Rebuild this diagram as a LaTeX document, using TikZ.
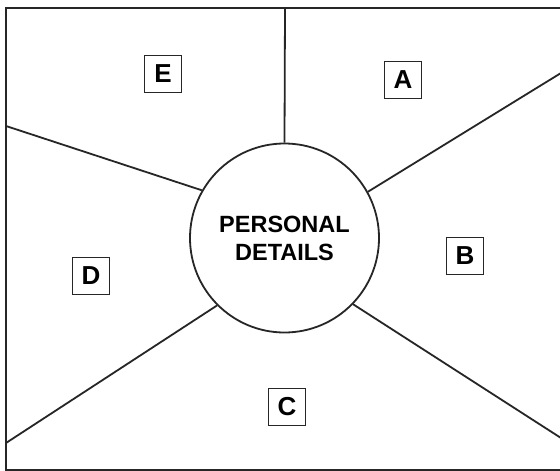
\documentclass[tikz,border=0pt]{standalone}
\usepackage{fontspec}
\setmainfont{Liberation Sans}
\begin{document}
\begin{tikzpicture}[x=1pt,y=-1pt,
  frame/.style={line width=2pt,draw=black!85},
  divider/.style={line width=1.8pt,draw=black!85},
  hub/.style={circle,draw=black!85,line width=1.8pt,minimum size=189pt,inner sep=0pt,align=center,font=\fontsize{23.5}{28}\selectfont\bfseries},
  tag/.style={draw=black!85,line width=1.6pt,minimum width=37pt,minimum height=37pt,inner sep=0pt,font=\fontsize{26}{26}\selectfont\bfseries}]
\useasboundingbox (0,0) rectangle (560,471);
\fill[white] (0,0) rectangle (560,471);
\draw[frame] (6,8) rectangle (563,470);
\node[hub] (c) at (284.5,238) {PERSONAL\\DETAILS};
\coordinate (top) at (285,8);
\coordinate (l1) at (6,126);
\coordinate (l2) at (6,443);
\coordinate (r1) at (561,73);
\coordinate (r2) at (561,438);
\draw[divider] (c.90) -- (top);
\draw[divider] (c.150) -- (l1);
\draw[divider] (c.29) -- (r1);
\draw[divider] (c.225) -- (l2);
\draw[divider] (c.316) -- (r2);
\node[tag] (E) at (163,74) {E};
\node[tag] (A) at (403,80) {A};
\node[tag] (B) at (465,256) {B};
\node[tag] (D) at (91,276) {D};
\node[tag] (C) at (287,407) {C};
\end{tikzpicture}
\end{document}
